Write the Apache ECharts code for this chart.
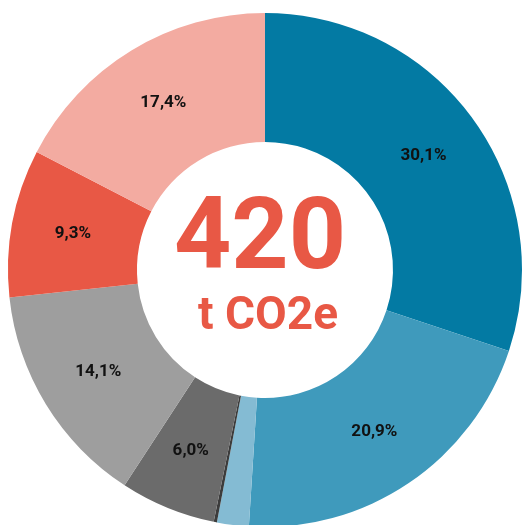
<!DOCTYPE html>
<html><head><meta charset="utf-8">
<script src="https://cdn.jsdelivr.net/npm/echarts@6/dist/echarts.min.js"></script>
<style>html,body{margin:0;padding:0;background:#fff}#c{width:524px;height:525px}</style>
</head><body><div id="c"></div>
<script>
const categories = ["Catégorie 1","Catégorie 2","Catégorie 3","Catégorie 4","Catégorie 5","Catégorie 6","Catégorie 7","Catégorie 8"];
const values = [30.1, 20.9, 2.0, 0.2, 6.0, 14.1, 9.3, 17.4];
const colors = ["#037aa3","#3f9abc","#84bbd3","#3c3c3c","#6b6b6b","#9e9e9e","#e85845","#f3aba1"];
const centerValue = "420";
const centerUnit = "t CO2e";

const chart = echarts.init(document.getElementById('c'), null, {renderer:'canvas'});
chart.setOption({
  animation:false,
  series:[{
    type:'pie',
    center:[265,270],
    radius:[128,257],
    startAngle:90,
    clockwise:true,
    avoidLabelOverlap:false,
    data: categories.map((c,i)=>({name:c,value:values[i],itemStyle:{color:colors[i]}})),
    label:{
      show:true, position:'inside',
      formatter:p=> p.value>=3 ? p.value.toFixed(1).replace('.',',')+'%' : '',
      color:'#111', fontFamily:'Roboto', fontWeight:'bold', fontSize:17
    },
    labelLine:{show:false},
    emphasis:{disabled:true}
  }],
  graphic:[
    {type:'text', style:{text:centerValue, fill:'#e85845', font:'bold 100px Roboto', textAlign:'center', textVerticalAlign:'middle'}, position:[260,243]},
    {type:'text', style:{text:centerUnit, fill:'#e85845', font:'bold 46px Roboto', textAlign:'center', textVerticalAlign:'middle'}, position:[268,317]}
  ]
});
</script></body></html>
